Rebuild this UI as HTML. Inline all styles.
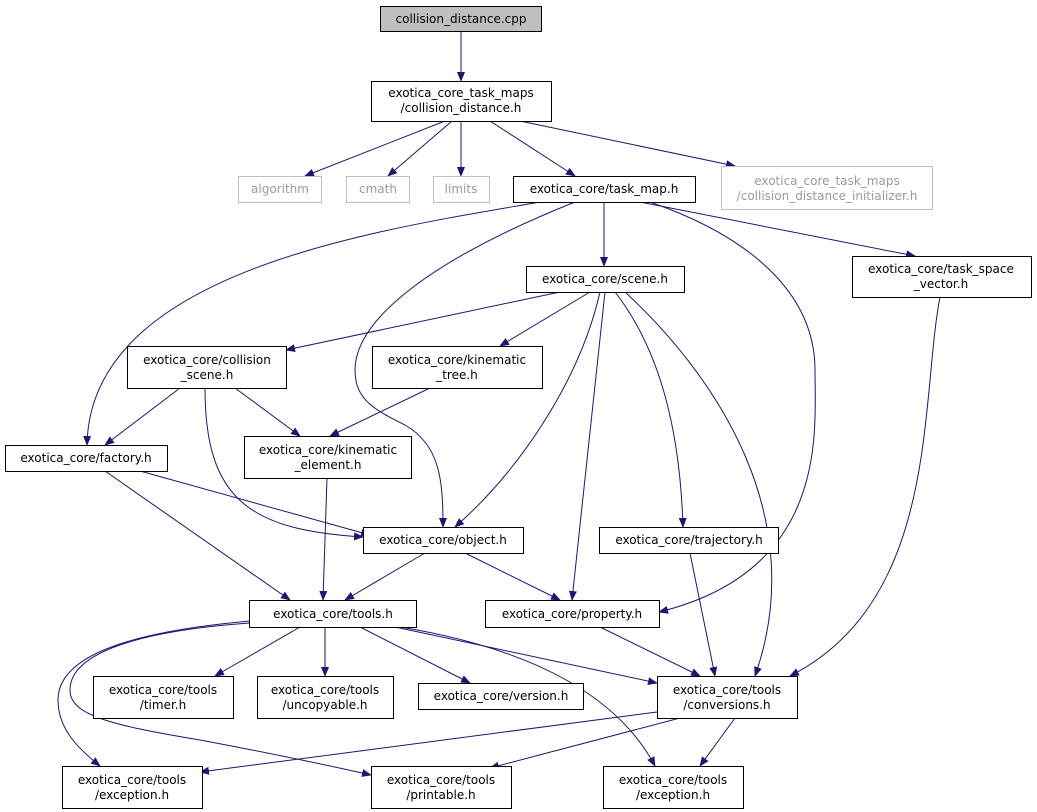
<!DOCTYPE html>
<html><head><meta charset="utf-8"><style>
html,body{margin:0;padding:0;background:#fff;}
svg{display:block;}
text{font-family:"DejaVu Sans","Liberation Sans",sans-serif;font-size:12px;fill:#000;}
.n{fill:#fff;stroke:#000;stroke-width:1;}
.g{fill:#fff;stroke:#bfbfbf;stroke-width:1;}
.e{fill:none;stroke:#191970;stroke-width:1;marker-end:url(#a);}
.gt{fill:#9a9a9a;}
</style></head><body>
<svg width="1037" height="812" viewBox="0 0 1037 812" xmlns="http://www.w3.org/2000/svg">
<defs><marker id="a" markerWidth="10" markerHeight="8" refX="9" refY="4" orient="auto" markerUnits="userSpaceOnUse"><path d="M0,0 L10,4 L0,8 z" fill="#191970"/></marker></defs>
<path class="e" d="M461,31 L461,81"/>
<path class="e" d="M445,121 L305,176"/>
<path class="e" d="M452,121 L388,176"/>
<path class="e" d="M461,121 L461,176"/>
<path class="e" d="M490,121 L575,176"/>
<path class="e" d="M520,121 L735,166"/>
<path class="e" d="M604,202 L604,266"/>
<path class="e" d="M640,202 L915,256"/>
<path class="e" d="M540,202 C380,230 90,270 87,445"/>
<path class="e" d="M575,202 C430,260 355,320 355,370 C355,400 375,410 405,425 C440,445 443,480 443,527"/>
<path class="e" d="M650,202 C760,240 815,300 815,370 C815,430 830,570 659,612"/>
<path class="e" d="M560,292 L286,350"/>
<path class="e" d="M590,292 L500,346"/>
<path class="e" d="M600,292 C580,380 520,470 455,527"/>
<path class="e" d="M605,292 L572,600"/>
<path class="e" d="M615,292 C660,350 680,430 683,527"/>
<path class="e" d="M625,292 C720,380 810,520 755,676"/>
<path class="e" d="M940,297 C920,400 940,600 790,676"/>
<path class="e" d="M180,388 L105,445"/>
<path class="e" d="M235,388 L300,436"/>
<path class="e" d="M205,388 C205,500 250,530 363,537"/>
<path class="e" d="M430,388 L330,436"/>
<path class="e" d="M105,471 L290,600"/>
<path class="e" d="M140,471 L370,535"/>
<path class="e" d="M327,478 L323,600"/>
<path class="e" d="M425,553 L345,600"/>
<path class="e" d="M465,553 L560,600"/>
<path class="e" d="M690,553 L715,676"/>
<path class="e" d="M600,627 L700,676"/>
<path class="e" d="M300,627 L215,676"/>
<path class="e" d="M325,627 L325,676"/>
<path class="e" d="M360,627 L470,683"/>
<path class="e" d="M395,627 L657,683"/>
<path class="e" d="M250,621 C150,630 58,650 58,700 C58,730 80,750 100,766"/>
<path class="e" d="M250,623 C150,630 70,650 70,690 C70,715 110,725 200,740 C280,755 340,768 371,775"/>
<path class="e" d="M400,627 C540,650 620,700 655,766"/>
<path class="e" d="M657,712 L200,772"/>
<path class="e" d="M680,718 L490,768"/>
<path class="e" d="M735,718 L700,766"/>
<rect x="380.5" y="6.5" width="161" height="25" fill="#bfbfbf" stroke="#000"/>
<text x="461" y="23" text-anchor="middle">collision_distance.cpp</text>
<rect class="n" x="371.5" y="81.5" width="180" height="40"/>
<text x="461" y="97" text-anchor="middle">exotica_core_task_maps</text>
<text x="461" y="112" text-anchor="middle">/collision_distance.h</text>
<rect class="g" x="238.5" y="176.5" width="83" height="26"/><text class="gt" x="280" y="193" text-anchor="middle">algorithm</text>
<rect class="g" x="346.5" y="176.5" width="63" height="26"/><text class="gt" x="378" y="193" text-anchor="middle">cmath</text>
<rect class="g" x="433.5" y="176.5" width="56" height="26"/><text class="gt" x="461" y="193" text-anchor="middle">limits</text>
<rect class="n" x="513.5" y="176.5" width="182" height="26"/><text x="604" y="193" text-anchor="middle">exotica_core/task_map.h</text>
<rect class="g" x="721.5" y="166.5" width="211" height="43"/>
<text class="gt" x="827" y="185" text-anchor="middle">exotica_core_task_maps</text>
<text class="gt" x="827" y="200" text-anchor="middle">/collision_distance_initializer.h</text>
<rect class="n" x="526.5" y="266.5" width="158" height="26"/><text x="605" y="283" text-anchor="middle">exotica_core/scene.h</text>
<rect class="n" x="852.5" y="256.5" width="179" height="41"/>
<text x="941" y="273" text-anchor="middle">exotica_core/task_space</text><text x="941" y="288" text-anchor="middle">_vector.h</text>
<rect class="n" x="127.5" y="346.5" width="159" height="42"/>
<text x="207" y="364" text-anchor="middle">exotica_core/collision</text><text x="207" y="379" text-anchor="middle">_scene.h</text>
<rect class="n" x="372.5" y="346.5" width="170" height="42"/>
<text x="457" y="364" text-anchor="middle">exotica_core/kinematic</text><text x="457" y="379" text-anchor="middle">_tree.h</text>
<rect class="n" x="5.5" y="445.5" width="162" height="26"/><text x="86" y="462" text-anchor="middle">exotica_core/factory.h</text>
<rect class="n" x="244.5" y="436.5" width="167" height="42"/>
<text x="328" y="454" text-anchor="middle">exotica_core/kinematic</text><text x="328" y="469" text-anchor="middle">_element.h</text>
<rect class="n" x="363.5" y="527.5" width="160" height="26"/><text x="443" y="544" text-anchor="middle">exotica_core/object.h</text>
<rect class="n" x="599.5" y="527.5" width="179" height="26"/><text x="689" y="544" text-anchor="middle">exotica_core/trajectory.h</text>
<rect class="n" x="249.5" y="600.5" width="167" height="27"/><text x="333" y="618" text-anchor="middle">exotica_core/tools.h</text>
<rect class="n" x="485.5" y="600.5" width="174" height="27"/><text x="572" y="618" text-anchor="middle">exotica_core/property.h</text>
<rect class="n" x="93.5" y="676.5" width="140" height="42"/>
<text x="163" y="694" text-anchor="middle">exotica_core/tools</text><text x="163" y="709" text-anchor="middle">/timer.h</text>
<rect class="n" x="257.5" y="676.5" width="136" height="42"/>
<text x="325" y="694" text-anchor="middle">exotica_core/tools</text><text x="325" y="709" text-anchor="middle">/uncopyable.h</text>
<rect class="n" x="418.5" y="683.5" width="165" height="26"/><text x="501" y="700" text-anchor="middle">exotica_core/version.h</text>
<rect class="n" x="657.5" y="676.5" width="140" height="42"/>
<text x="727" y="694" text-anchor="middle">exotica_core/tools</text><text x="727" y="709" text-anchor="middle">/conversions.h</text>
<rect class="n" x="62.5" y="766.5" width="140" height="42"/>
<text x="132" y="784" text-anchor="middle">exotica_core/tools</text><text x="132" y="799" text-anchor="middle">/exception.h</text>
<rect class="n" x="371.5" y="766.5" width="140" height="42"/>
<text x="441" y="784" text-anchor="middle">exotica_core/tools</text><text x="441" y="799" text-anchor="middle">/printable.h</text>
<rect class="n" x="603.5" y="766.5" width="140" height="42"/>
<text x="673" y="784" text-anchor="middle">exotica_core/tools</text><text x="673" y="799" text-anchor="middle">/exception.h</text>
</svg>
</body></html>
